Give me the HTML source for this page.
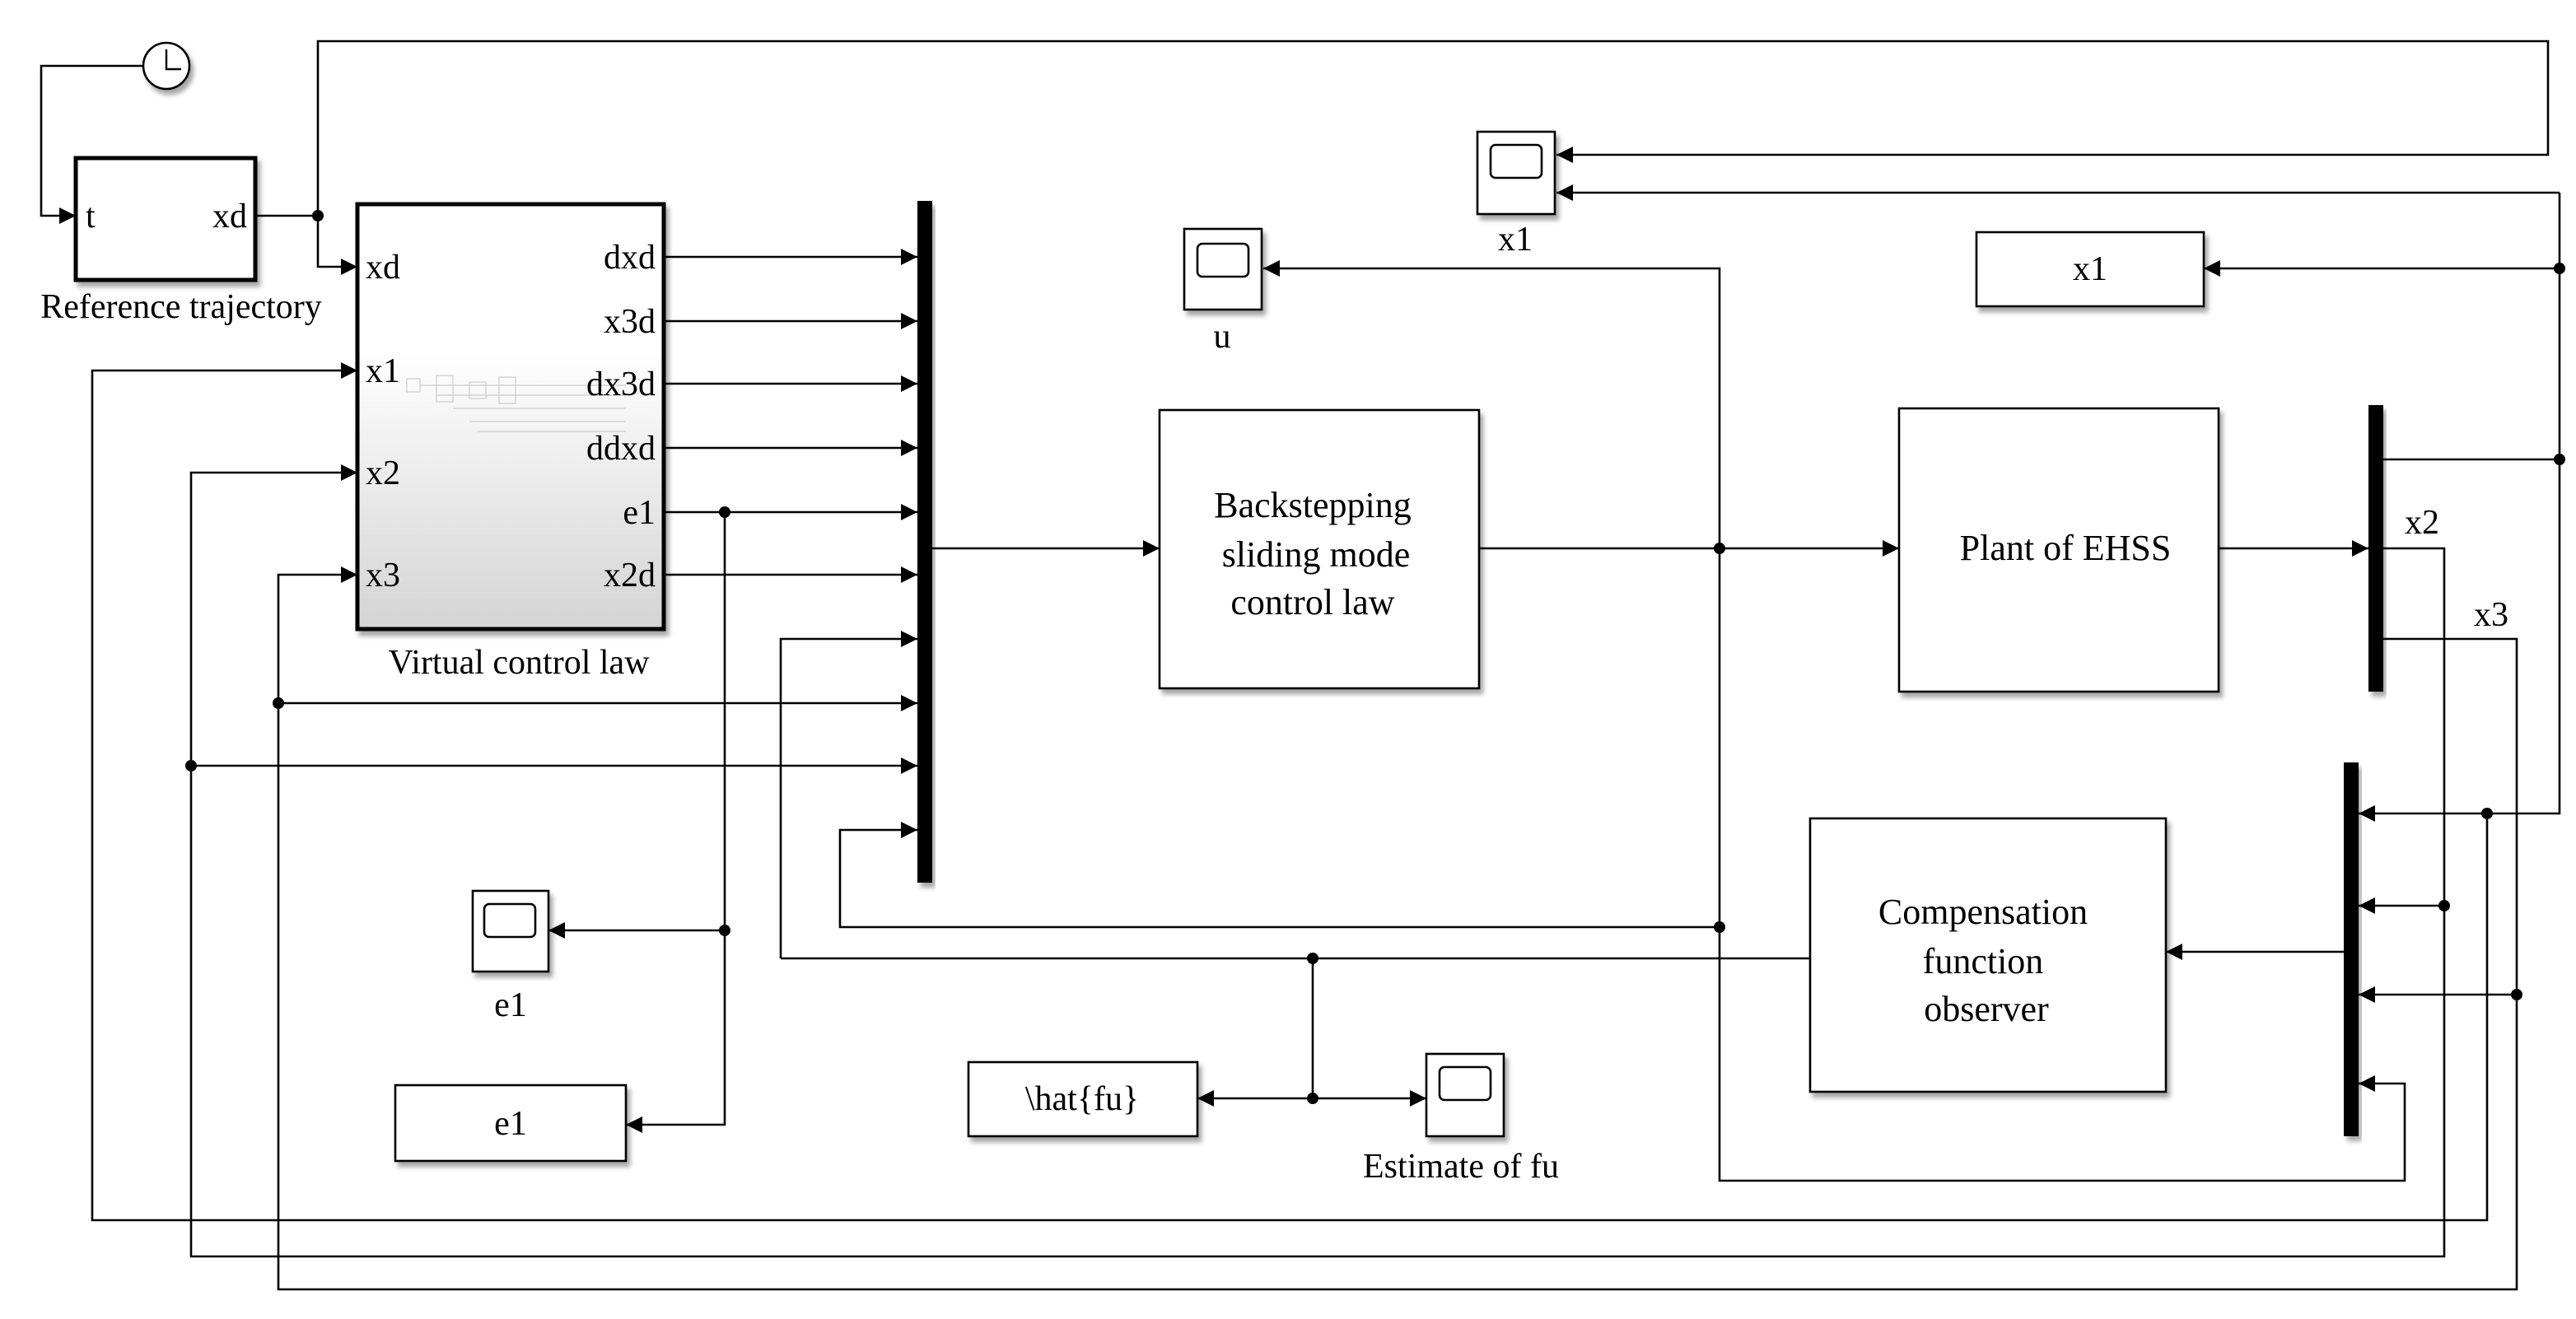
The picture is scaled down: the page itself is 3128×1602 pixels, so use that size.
<!DOCTYPE html>
<html><head><meta charset="utf-8"><style>html,body{margin:0;padding:0;background:#fff}svg{display:block}svg text{font-family:"Liberation Serif","DejaVu Serif",serif}</style></head>
<body>
<svg width="3128" height="1602" viewBox="0 0 1564 801" xmlns="http://www.w3.org/2000/svg" style="font-family:'Liberation Serif',serif" fill="none" stroke="#000" stroke-width="1.3">
<defs>
<marker id="a" viewBox="0 0 10 10" refX="10" refY="5" markerWidth="10" markerHeight="10" markerUnits="userSpaceOnUse" orient="auto"><path d="M0,0 L10,5 L0,10 z" fill="#000" stroke="none"/></marker>
<linearGradient id="g" x1="0" y1="0" x2="0" y2="1"><stop offset="0.35" stop-color="#fff"/><stop offset="1" stop-color="#d4d4d4"/></linearGradient>
<filter id="s" x="-10%" y="-10%" width="130%" height="130%"><feDropShadow dx="2" dy="3" stdDeviation="1.5" flood-color="#000" flood-opacity="0.35"/></filter>
</defs>

<circle cx="101" cy="40" r="14" fill="#fff" filter="url(#s)"/>
<path d="M101,30 V42 H110" stroke-width="1.2"/>
<path d="M87,40 H25 V131 H46" marker-end="url(#a)"/>

<rect x="46" y="96" width="109" height="74" fill="#fff" stroke-width="2.5" filter="url(#s)"/>
<g fill="#000" stroke="none" font-size="21">
<text x="52" y="138">t</text><text x="129" y="138">xd</text>
<text x="110" y="193" text-anchor="middle">Reference trajectory</text>
</g>
<path d="M155,131 H193 V25 H1547 V94 H945" marker-end="url(#a)"/>
<path d="M193,131 V162 H217" marker-end="url(#a)"/>

<rect x="217" y="124" width="186" height="258" fill="url(#g)" stroke-width="2.5" filter="url(#s)"/>
<g stroke="#ccc" stroke-width="0.6">
<rect x="247" y="230" width="8" height="8"/><rect x="265" y="228" width="10" height="16"/><rect x="285" y="232" width="10" height="10"/><rect x="303" y="229" width="10" height="16"/>
<path d="M255,234 H380 M265,240 H380 M275,248 H380 M285,256 H380 M290,262 H380"/>
</g>
<g fill="#000" stroke="none" font-size="21">
<text x="222" y="169">xd</text><text x="222" y="232">x1</text><text x="222" y="294">x2</text><text x="222" y="356">x3</text>
<g text-anchor="end"><text x="398" y="163">dxd</text><text x="398" y="202">x3d</text><text x="398" y="240">dx3d</text><text x="398" y="279">ddxd</text><text x="398" y="318">e1</text><text x="398" y="356">x2d</text></g>
<text x="315" y="409" text-anchor="middle">Virtual control law</text>
</g>
<g marker-end="url(#a)">
<path d="M403,156 H557"/><path d="M403,195 H557"/><path d="M403,233 H557"/><path d="M403,272 H557"/><path d="M403,311 H557"/><path d="M403,349 H557"/>
<path d="M474,582 V388 H557"/><path d="M169,427 H557"/><path d="M116,465 H557"/><path d="M1044,563 H510 V504 H557"/>
</g>
<rect x="557" y="122" width="9" height="414" fill="#000" stroke="none" filter="url(#s)"/>
<path d="M566,333 H704" marker-end="url(#a)"/>

<rect x="704" y="249" width="194" height="169" fill="#fff" filter="url(#s)"/>
<g fill="#000" stroke="none" font-size="22" text-anchor="middle">
<text x="797" y="314">Backstepping</text><text x="799" y="344">sliding mode</text><text x="797" y="373">control law</text>
</g>
<path d="M898,333 H1153" marker-end="url(#a)"/>
<path d="M1044,333 V163 H767" marker-end="url(#a)"/>
<path d="M1044,333 V717 H1460 V658 H1432" marker-end="url(#a)"/>

<rect x="719" y="139" width="47" height="49" fill="#fff" filter="url(#s)"/>
<rect x="727" y="148" width="31" height="20" rx="3" stroke-width="1.3"/>
<text x="742" y="211" fill="#000" stroke="none" font-size="21" text-anchor="middle">u</text>

<rect x="897" y="80" width="47" height="50" fill="#fff" filter="url(#s)"/>
<rect x="905" y="88" width="31" height="20" rx="3"/>
<text x="920" y="152" fill="#000" stroke="none" font-size="21" text-anchor="middle">x1</text>

<rect x="1200" y="141" width="138" height="45" fill="#fff" filter="url(#s)"/>
<text x="1269" y="170" fill="#000" stroke="none" font-size="21" text-anchor="middle">x1</text>

<rect x="1153" y="248" width="194" height="172" fill="#fff" filter="url(#s)"/>
<text x="1254" y="340" fill="#000" stroke="none" font-size="22" text-anchor="middle">Plant of EHSS</text>
<path d="M1347,333 H1438" marker-end="url(#a)"/>
<rect x="1438" y="246" width="9" height="174" fill="#000" stroke="none" filter="url(#s)"/>
<g fill="#000" stroke="none" font-size="21"><text x="1460" y="324">x2</text><text x="1502" y="380">x3</text></g>

<path d="M1447,279 H1554"/>
<path d="M1554,117 H945" marker-end="url(#a)"/>
<path d="M1554,117 V494 H1432" marker-end="url(#a)"/>
<path d="M1554,163 H1338" marker-end="url(#a)"/>
<path d="M1510,494 V741 H56 V225 H217" marker-end="url(#a)"/>
<path d="M1447,333 H1484 V763 H116 V287 H217" marker-end="url(#a)"/>
<path d="M1484,550 H1432" marker-end="url(#a)"/>
<path d="M1447,388 H1528 V783 H169 V349 H217" marker-end="url(#a)"/>
<path d="M1528,604 H1432" marker-end="url(#a)"/>

<rect x="1423" y="463" width="9" height="227" fill="#000" stroke="none" filter="url(#s)"/>
<path d="M1423,578 H1315" marker-end="url(#a)"/>
<rect x="1099" y="497" width="216" height="166" fill="#fff" filter="url(#s)"/>
<g fill="#000" stroke="none" font-size="22" text-anchor="middle">
<text x="1204" y="561">Compensation</text><text x="1204" y="591">function</text><text x="1206" y="620">observer</text>
</g>
<path d="M1099,582 H474"/>
<path d="M797,582 V667"/>
<path d="M797,667 H727" marker-end="url(#a)"/>
<path d="M797,667 H866" marker-end="url(#a)"/>
<rect x="588" y="645" width="139" height="45" fill="#fff" filter="url(#s)"/>
<text x="657" y="674" fill="#000" stroke="none" font-size="21" text-anchor="middle">\hat{fu}</text>
<rect x="866" y="640" width="47" height="50" fill="#fff" filter="url(#s)"/>
<rect x="874" y="648" width="31" height="20" rx="3"/>
<text x="887" y="715" fill="#000" stroke="none" font-size="21" text-anchor="middle">Estimate of fu</text>

<path d="M440,311 V683 H380" marker-end="url(#a)"/>
<path d="M440,565 H333" marker-end="url(#a)"/>
<rect x="287" y="541" width="46" height="49" fill="#fff" filter="url(#s)"/>
<rect x="294" y="549" width="31" height="20" rx="3"/>
<text x="310" y="617" fill="#000" stroke="none" font-size="21" text-anchor="middle">e1</text>
<rect x="240" y="659" width="140" height="46" fill="#fff" filter="url(#s)"/>
<text x="310" y="689" fill="#000" stroke="none" font-size="21" text-anchor="middle">e1</text>

<g fill="#000" stroke="none">
<circle cx="193" cy="131" r="3.5"/><circle cx="440" cy="311" r="3.5"/><circle cx="440" cy="565" r="3.5"/>
<circle cx="169" cy="427" r="3.5"/><circle cx="116" cy="465" r="3.5"/>
<circle cx="1044" cy="333" r="3.5"/><circle cx="1044" cy="563" r="3.5"/>
<circle cx="797" cy="582" r="3.5"/><circle cx="797" cy="667" r="3.5"/>
<circle cx="1554" cy="163" r="3.5"/><circle cx="1554" cy="279" r="3.5"/>
<circle cx="1510" cy="494" r="3.5"/><circle cx="1484" cy="550" r="3.5"/><circle cx="1528" cy="604" r="3.5"/>
</g>
</svg>
</body></html>
